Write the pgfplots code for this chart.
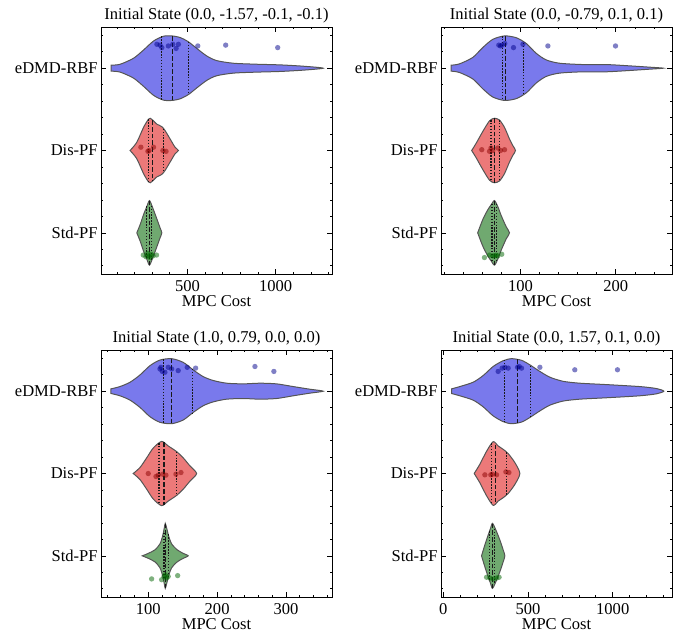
\documentclass[border=0pt]{standalone}
\usepackage{fontspec}
\setmainfont{Liberation Serif}
\usepackage{pgfplots}
\pgfplotsset{compat=1.18}
\definecolor{vblue}{RGB}{121,121,236}
\definecolor{vred}{RGB}{236,121,121}
\definecolor{vgreen}{RGB}{112,169,112}
\definecolor{vedge}{RGB}{85,85,85}
\definecolor{pblue}{RGB}{0,0,139}
\definecolor{pred}{RGB}{139,0,0}
\definecolor{pgreen}{RGB}{0,100,0}
\pgfplotsset{
  vplot/.style={
    scale only axis, width=173.25pt, height=185.25pt,
    anchor=north west,
    ymin=-0.5, ymax=2.5, y dir=reverse,
    ytick={0,1,2}, yticklabels={eDMD-RBF,Dis-PF,Std-PF},
    minor ytick={-0.4,-0.2,0.2,0.4,0.6,0.8,1.2,1.4,1.6,1.8,2.2,2.4},
    tick pos=both, ticklabel pos=left,
    major tick length=3.4pt, minor tick length=1.8pt,
    tick style={black, line width=0.5pt},
    axis line style={black, line width=0.75pt},
    font=\fontsize{12.4}{14}\selectfont,
    tick label style={font=\fontsize{12.4}{14}\selectfont},
    label style={font=\fontsize{12.4}{14}\selectfont},
    title style={font=\fontsize{12.4}{14}\selectfont, yshift=-6.5pt},
    /pgf/number format/assume math mode=true,
    /pgf/number format/set thousands separator={},
    xlabel={MPC Cost},
    xlabel style={yshift=1pt, inner sep=1pt},
    xticklabel style={yshift=-1pt},
    yticklabel style={xshift=1pt},
  },
  vio/.style={draw=vedge, line width=0.75pt, fill=#1, smooth, tension=0.45},
  qd/.style={black!90, line width=0.9pt, dash pattern=on 1.1pt off 1.1pt},
  md/.style={black!90, line width=0.9pt, dash pattern=on 3.5pt off 1.5pt},
  pts/.style={only marks, mark=*, mark size=2pt, mark options={fill=#1, draw=#1, fill opacity=0.5, draw opacity=0}},
}
\begin{document}
\begin{tikzpicture}
\useasboundingbox (0,0) rectangle (510.75pt,-477.75pt);
% ---------------- Panel 1 ----------------
\begin{axis}[vplot, at={(75.75pt,-20.25pt)},
  title={Initial State (0.0, -1.57, -0.1, -0.1)},
  xmin=10, xmax=1320, xtick={500,1000}, minor xtick={100,200,...,1300}]
\addplot[vio=vblue] coordinates {(68,-0.036)(119,-0.048)(194,-0.12)(251,-0.22)(308,-0.33)(364,-0.388)(412,-0.392)(459,-0.372)(506,-0.32)(553,-0.24)(610,-0.148)(666,-0.092)(761,-0.06)(893,-0.048)(1025,-0.04)(1157,-0.024)(1270,0)(1157,0.024)(1025,0.04)(893,0.048)(761,0.06)(666,0.092)(610,0.148)(553,0.24)(506,0.32)(459,0.372)(412,0.392)(364,0.388)(308,0.33)(251,0.22)(194,0.12)(119,0.048)(68,0.036)} -- cycle;
\addplot[qd] coordinates {(355,-0.385)(355,0.385)};
\addplot[md] coordinates {(417,-0.39)(417,0.39)};
\addplot[qd] coordinates {(506,-0.32)(506,0.32)};
\addplot[pts=pblue] coordinates {(327,-0.29)(345,-0.28)(355,-0.25)(392,-0.27)(417,-0.29)(436,-0.24)(449,-0.29)(559,-0.27)(717,-0.28)(1012,-0.25)};
\addplot[vio=vred] coordinates {(175,1)(213,0.9)(251,0.72)(279,0.62)(289,0.608)(308,0.64)(327,0.68)(355,0.71)(374,0.76)(402,0.86)(430,0.96)(449,1)(430,1.04)(402,1.14)(374,1.24)(355,1.29)(327,1.32)(308,1.36)(289,1.392)(279,1.38)(251,1.28)(213,1.1)(175,1)} -- cycle;
\addplot[qd] coordinates {(279,0.62)(279,1.38)};
\addplot[md] coordinates {(304,0.635)(304,1.365)};
\addplot[qd] coordinates {(364,0.735)(364,1.265)};
\addplot[pts=pred] coordinates {(236,0.96)(276,1.01)(283,1.0)(308,0.96)(361,1.0)(379,1.01)};
\addplot[vio=vgreen] coordinates {(213,2)(232,1.9)(251,1.78)(270,1.68)(285,1.608)(304,1.7)(327,1.832)(345,1.94)(355,2)(345,2.06)(327,2.168)(304,2.3)(285,2.392)(270,2.32)(251,2.22)(232,2.1)(213,2)} -- cycle;
\addplot[qd] coordinates {(270,1.68)(270,2.32)};
\addplot[md] coordinates {(285,1.61)(285,2.39)};
\addplot[qd] coordinates {(298,1.67)(298,2.33)};
\addplot[pts=pgreen] coordinates {(250,2.27)(265,2.29)(275,2.25)(282,2.28)(288,2.3)(295,2.26)(305,2.28)(325,2.27)};
\end{axis}
% ---------------- Panel 2 ----------------
\begin{axis}[vplot, at={(330.75pt,-20.25pt)},
  title={Initial State (0.0, -0.79, 0.1, 0.1)},
  xmin=16.5, xmax=259, xtick={100,200}, minor xtick={20,40,...,240}]
\addplot[vio=vblue] coordinates {(27,-0.036)(35.8,-0.052)(49.8,-0.13)(60.3,-0.25)(70.8,-0.35)(83.2,-0.392)(95.5,-0.37)(106,-0.3)(116.5,-0.18)(127,-0.1)(141,-0.06)(165.6,-0.044)(190,-0.044)(214.7,-0.028)(235.8,-0.012)(249.8,0)(235.8,0.012)(214.7,0.028)(190,0.044)(165.6,0.044)(141,0.06)(127,0.1)(116.5,0.18)(106,0.3)(95.5,0.37)(83.2,0.392)(70.8,0.35)(60.3,0.25)(49.8,0.13)(35.8,0.052)(27,0.036)} -- cycle;
\addplot[qd] coordinates {(81.4,-0.39)(81.4,0.39)};
\addplot[md] coordinates {(84,-0.39)(84,0.39)};
\addplot[qd] coordinates {(103,-0.31)(103,0.31)};
\addplot[pts=pblue] coordinates {(77.2,-0.28)(79,-0.27)(80.7,-0.28)(83.5,-0.3)(92.6,-0.25)(102.5,-0.29)(128.7,-0.27)(199.7,-0.27)};
\addplot[vio=vred] coordinates {(48.7,1)(53.4,0.912)(60.3,0.77)(67.4,0.64)(72.6,0.608)(77.9,0.63)(83.2,0.72)(88.4,0.86)(91.9,0.94)(94.7,1)(91.9,1.06)(88.4,1.14)(83.2,1.28)(77.9,1.37)(72.6,1.392)(67.4,1.36)(60.3,1.23)(53.4,1.088)(48.7,1)} -- cycle;
\addplot[qd] coordinates {(69,0.63)(69,1.37)};
\addplot[md] coordinates {(72.6,0.61)(72.6,1.39)};
\addplot[qd] coordinates {(78,0.63)(78,1.37)};
\addplot[pts=pred] coordinates {(59.3,0.99)(67.4,1.01)(69,0.97)(70.9,1.0)(76.1,0.97)(79,1.0)(83.2,0.99)};
\addplot[vio=vgreen] coordinates {(55,2)(60.3,1.84)(65.6,1.72)(69.1,1.66)(72.6,1.608)(76.1,1.68)(79.7,1.79)(85,1.928)(88.4,2)(85,2.072)(79.7,2.21)(76.1,2.32)(72.6,2.392)(69.1,2.34)(65.6,2.28)(60.3,2.16)(55,2)} -- cycle;
\addplot[qd] coordinates {(70,1.65)(70,2.35)};
\addplot[md] coordinates {(72.6,1.61)(72.6,2.39)};
\addplot[qd] coordinates {(75,1.65)(75,2.35)};
\addplot[pts=pgreen] coordinates {(62.1,2.3)(67.4,2.27)(70.9,2.28)(72.6,2.28)(74.4,2.27)(76.1,2.28)(80.3,2.26)};
\end{axis}
% ---------------- Panel 3 ----------------
\begin{axis}[vplot, at={(75.75pt,-262.5pt)},
  title={Initial State (1.0, 0.79, 0.0, 0.0)},
  xmin=31.4, xmax=366.8, xtick={100,200,300}, minor xtick={40,60,...,360}]
\addplot[vio=vblue] coordinates {(45.9,-0.028)(58.9,-0.056)(73.4,-0.108)(88,-0.197)(102.5,-0.31)(117,-0.378)(134,-0.395)(150.8,-0.35)(165.3,-0.258)(179.8,-0.177)(194.3,-0.13)(213.8,-0.097)(237.9,-0.089)(262,-0.097)(286.4,-0.089)(310.5,-0.056)(334.7,-0.024)(354,0)(334.7,0.024)(310.5,0.056)(286.4,0.089)(262,0.097)(237.9,0.089)(213.8,0.097)(194.3,0.13)(179.8,0.177)(165.3,0.258)(150.8,0.35)(134,0.395)(117,0.378)(102.5,0.31)(88,0.197)(73.4,0.108)(58.9,0.056)(45.9,0.028)} -- cycle;
\addplot[qd] coordinates {(121.8,-0.385)(121.8,0.385)};
\addplot[md] coordinates {(134,-0.395)(134,0.395)};
\addplot[qd] coordinates {(163.9,-0.27)(163.9,0.27)};
\addplot[pts=pblue] coordinates {(117,-0.27)(118.4,-0.29)(120.3,-0.24)(124.2,-0.23)(129,-0.29)(134,-0.27)(143.5,-0.25)(156.6,-0.29)(168.8,-0.28)(254.9,-0.3)(282.4,-0.24)};
\addplot[vio=vred] coordinates {(78.2,1)(88,0.927)(97.7,0.81)(107.3,0.69)(119.4,0.61)(129,0.665)(141.2,0.734)(150.8,0.81)(160.5,0.907)(170.2,1)(160.5,1.093)(150.8,1.19)(141.2,1.266)(129,1.335)(119.4,1.39)(107.3,1.31)(97.7,1.19)(88,1.073)(78.2,1)} -- cycle;
\addplot[qd] coordinates {(115.5,0.63)(115.5,1.37)};
\addplot[md] coordinates {(122.8,0.62)(122.8,1.38)};
\addplot[qd] coordinates {(141,0.735)(141,1.265)};
\addplot[pts=pred] coordinates {(100,1.0)(111.2,1.036)(114.5,1.02)(120.9,1.008)(125.7,1.02)(140.2,1.008)(147.5,0.988)};
\addplot[vio=vgreen] coordinates {(91.3,2)(100,1.97)(109.7,1.927)(117,1.855)(120.9,1.758)(123.3,1.66)(124.7,1.605)(126.7,1.66)(129.6,1.758)(134,1.855)(142.1,1.927)(150.8,1.97)(158,2)(150.8,2.03)(142.1,2.073)(134,2.145)(129.6,2.242)(126.7,2.34)(124.7,2.395)(123.3,2.34)(120.9,2.242)(117,2.145)(109.7,2.073)(100,2.03)(91.3,2)} -- cycle;
\addplot[qd] coordinates {(122.8,1.72)(122.8,2.28)};
\addplot[md] coordinates {(125.2,1.61)(125.2,2.39)};
\addplot[qd] coordinates {(129,1.74)(129,2.26)};
\addplot[pts=pgreen] coordinates {(104.9,2.28)(119.4,2.29)(122.8,2.25)(124.7,2.23)(126.7,2.27)(129,2.25)(142.7,2.24)};
\end{axis}
% ---------------- Panel 4 ----------------
\begin{axis}[vplot, at={(330.75pt,-262.5pt)},
  title={Initial State (0.0, 1.57, 0.1, 0.0)},
  xmin=-14, xmax=1350, xtick={0,500,1000}, minor xtick={100,200,...,1300}]
\addplot[vio=vblue] coordinates {(48,-0.028)(97,-0.056)(176,-0.109)(235,-0.19)(294,-0.3)(353,-0.37)(402.6,-0.395)(461.6,-0.375)(510.6,-0.32)(569.6,-0.24)(628.7,-0.17)(707.3,-0.12)(805.8,-0.097)(963.4,-0.08)(1160,-0.056)(1258.5,-0.032)(1301.6,0)(1258.5,0.032)(1160,0.056)(963.4,0.08)(805.8,0.097)(707.3,0.12)(628.7,0.17)(569.6,0.24)(510.6,0.32)(461.6,0.375)(402.6,0.395)(353,0.37)(294,0.3)(235,0.19)(176,0.109)(97,0.056)(48,0.028)} -- cycle;
\addplot[qd] coordinates {(363,-0.38)(363,0.38)};
\addplot[md] coordinates {(438,-0.385)(438,0.385)};
\addplot[qd] coordinates {(516,-0.31)(516,0.31)};
\addplot[pts=pblue] coordinates {(323.5,-0.24)(347,-0.28)(363,-0.29)(382.6,-0.28)(438,-0.29)(447.5,-0.3)(461.6,-0.28)(570,-0.29)(776,-0.26)(1028,-0.26)};
\addplot[vio=vred] coordinates {(182,1)(215.5,0.887)(255,0.73)(294,0.613)(323.5,0.665)(353,0.706)(382.6,0.758)(422,0.867)(451.6,1)(422,1.133)(382.6,1.242)(353,1.294)(323.5,1.335)(294,1.387)(255,1.27)(215.5,1.113)(182,1)} -- cycle;
\addplot[qd] coordinates {(284.5,0.63)(284.5,1.37)};
\addplot[md] coordinates {(310,0.65)(310,1.35)};
\addplot[qd] coordinates {(373,0.74)(373,1.26)};
\addplot[pts=pred] coordinates {(245,1.016)(280,1.016)(290,1.008)(314,1.016)(369,0.98)(387,0.988)};
\addplot[vio=vgreen] coordinates {(225.3,2)(245,1.867)(264.7,1.746)(278.5,1.665)(290,1.605)(310,1.686)(333.5,1.807)(353,1.927)(363,2)(353,2.073)(333.5,2.193)(310,2.314)(290,2.395)(278.5,2.335)(264.7,2.254)(245,2.133)(225.3,2)} -- cycle;
\addplot[qd] coordinates {(274.5,1.7)(274.5,2.3)};
\addplot[md] coordinates {(290,1.61)(290,2.39)};
\addplot[qd] coordinates {(304,1.67)(304,2.33)};
\addplot[pts=pgreen] coordinates {(255,2.26)(274.5,2.27)(294,2.28)(314,2.27)(329,2.26)};
\end{axis}
\end{tikzpicture}
\end{document}
